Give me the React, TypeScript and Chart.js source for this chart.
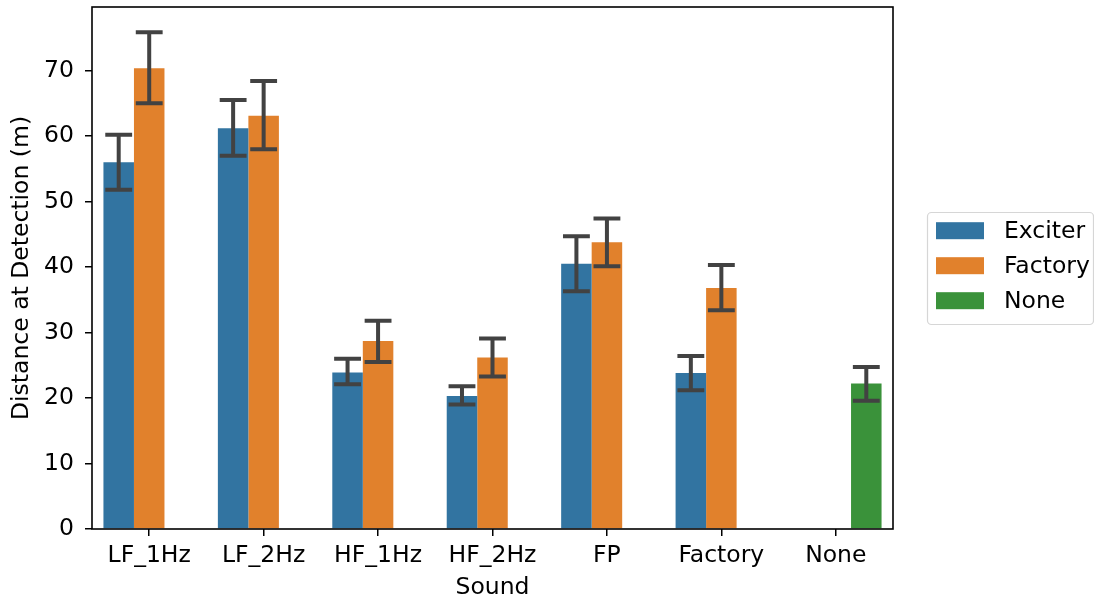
import React, { useEffect, useRef } from "react";
import { Chart, registerables } from "chart.js";

Chart.register(...registerables);

const categories = ["LF_1Hz", "LF_2Hz", "HF_1Hz", "HF_2Hz", "FP", "Factory", "None"];
const hueLabels = ["Exciter", "Factory", "None"];
const hueColors = ["#3274a1", "#e1812c", "#3a923a"];

const exciterMean = [56.0, 61.2, 23.9, 20.3, 40.5, 23.8, null];
const exciterLow = [51.8, 57.0, 22.1, 19.0, 36.3, 21.2, null];
const exciterHigh = [60.2, 65.5, 26.0, 21.8, 44.7, 26.4, null];

const factoryMean = [70.35, 63.1, 28.7, 26.2, 43.8, 36.8, null];
const factoryLow = [65.0, 58.0, 25.5, 23.3, 40.1, 33.4, null];
const factoryHigh = [75.85, 68.4, 31.8, 29.1, 47.4, 40.3, null];

const noneMean = [null, null, null, null, null, null, 22.2];
const noneLow = [null, null, null, null, null, null, 19.6];
const noneHigh = [null, null, null, null, null, null, 24.75];

const yTicks = [0, 10, 20, 30, 40, 50, 60, 70];
const yMax = 79.7;

const FONT = "'DejaVu Sans', sans-serif";
const FS = 23.5;

export default function App() {
  const ref = useRef<HTMLCanvasElement>(null);

  useEffect(() => {
    const lows = [exciterLow, factoryLow, noneLow];
    const highs = [exciterHigh, factoryHigh, noneHigh];

    const errorPlugin = {
      id: "errorbars",
      afterDatasetsDraw(chart: any) {
        const ctx = chart.ctx;
        const y = chart.scales.y;
        ctx.save();
        ctx.strokeStyle = "#424242";
        ctx.lineWidth = 4;
        ctx.lineCap = "butt";
        chart.data.datasets.forEach((ds: any, di: number) => {
          const meta = chart.getDatasetMeta(di);
          meta.data.forEach((bar: any, i: number) => {
            const lo = lows[di][i];
            const hi = highs[di][i];
            if (lo == null || hi == null || ds.data[i] == null) return;
            const x = bar.x;
            const half = bar.width * 0.44;
            const yl = y.getPixelForValue(lo);
            const yh = y.getPixelForValue(hi);
            ctx.beginPath();
            ctx.moveTo(x, yl);
            ctx.lineTo(x, yh);
            ctx.moveTo(x - half, yl);
            ctx.lineTo(x + half, yl);
            ctx.moveTo(x - half, yh);
            ctx.lineTo(x + half, yh);
            ctx.stroke();
          });
        });
        ctx.restore();
      },
    };

    const framePlugin = {
      id: "frame",
      afterDraw(chart: any) {
        const ctx = chart.ctx;
        const a = chart.chartArea;
        ctx.save();
        ctx.strokeStyle = "#000";
        ctx.lineWidth = 1.6;
        ctx.strokeRect(a.left, a.top, a.right - a.left, a.bottom - a.top);

        // legend
        const lx = 927, ly = 212, lw = 166, lh = 112;
        ctx.beginPath();
        ctx.roundRect(lx + 0.5, ly + 0.5, lw, lh, 4);
        ctx.fillStyle = "rgba(255,255,255,0.8)";
        ctx.fill();
        ctx.strokeStyle = "#d6d6d6";
        ctx.lineWidth = 1.2;
        ctx.stroke();
        const rows = [230.7, 265.7, 300.7];
        ctx.font = `${FS}px ${FONT}`;
        ctx.textBaseline = "middle";
        ctx.textAlign = "left";
        chart.data.datasets.forEach((ds: any, i: number) => {
          ctx.fillStyle = ds.backgroundColor;
          ctx.fillRect(936, rows[i] - 8.5, 48, 17);
          ctx.fillStyle = "#000";
          ctx.fillText(ds.label, 1004, rows[i] + 1);
        });
        ctx.restore();
      },
    };

    const chart = new Chart(ref.current!, {
      type: "bar",
      data: {
        labels: categories,
        datasets: [
          { label: hueLabels[0], data: exciterMean, backgroundColor: hueColors[0] },
          { label: hueLabels[1], data: factoryMean, backgroundColor: hueColors[1] },
          { label: hueLabels[2], data: noneMean, backgroundColor: hueColors[2] },
        ] as any,
      },
      options: {
        responsive: false,
        animation: false,
        layout: { padding: { left: 0, top: 7, right: 201, bottom: 0 } },
        datasets: { bar: { categoryPercentage: 0.8, barPercentage: 1.0, borderWidth: 0 } } as any,
        plugins: {
          legend: { display: false },
          tooltip: { enabled: false },
        },
        scales: {
          x: {
            grid: { drawOnChartArea: false, tickLength: 7, lineWidth: 1.5, color: "#000", offset: false } as any,
            border: { display: false },
            ticks: { color: "#000", font: { family: FONT, size: FS }, padding: 6, maxRotation: 0 },
            title: { display: true, text: "Sound", color: "#000", font: { family: FONT, size: FS }, padding: { top: 0, bottom: 1 } },
            afterFit: (s: any) => { s.height = 74; s.paddingLeft = 0; s.paddingRight = 0; },
          },
          y: {
            min: 0,
            max: yMax,
            grid: { drawOnChartArea: false, tickLength: 7, lineWidth: 1.5, color: "#000" },
            border: { display: false },
            ticks: {
              color: "#000",
              font: { family: FONT, size: FS },
              padding: 11,
              includeBounds: false,
              stepSize: 10,
            } as any,
            afterBuildTicks: (s: any) => { s.ticks = yTicks.map((v) => ({ value: v })); },
            title: { display: true, text: "Distance at Detection (m)", color: "#000", font: { family: FONT, size: FS }, padding: { top: 8, bottom: 0 } },
            afterFit: (s: any) => { s.width = 92; s.paddingTop = 0; s.paddingBottom = 0; },
          },
        },
      },
      plugins: [errorPlugin, framePlugin],
    });
    return () => chart.destroy();
  }, []);

  return (
    <div style={{ position: "fixed", left: 0, top: 0, width: 1094, height: 603, background: "#fff" }}>
      <canvas ref={ref} width={1094} height={603} />
    </div>
  );
}
